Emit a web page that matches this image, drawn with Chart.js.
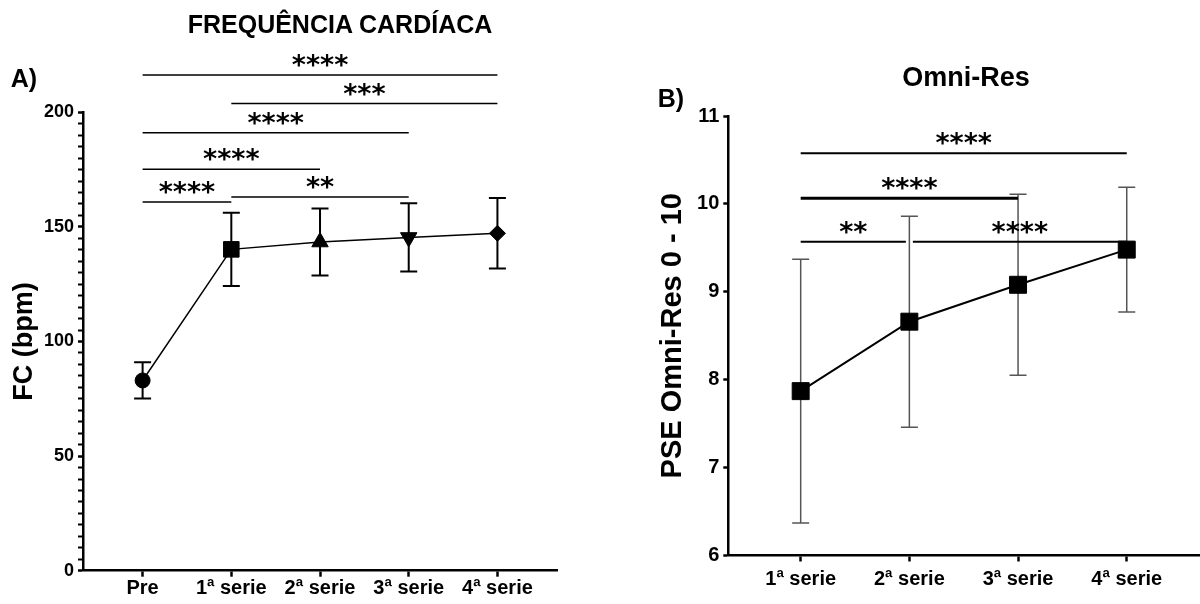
<!DOCTYPE html>
<html lang="pt">
<head>
<meta charset="utf-8">
<title>Frequência cardíaca e Omni-Res</title>
<script src="https://cdn.jsdelivr.net/npm/chart.js@4.4.1/dist/chart.umd.min.js"></script>
<style>
  body { margin: 0; background: #fff; }
  #wrap { position: relative; width: 1200px; height: 604px; font-family: 'Liberation Sans', Arial, sans-serif; }
  #wrap canvas { position: absolute; top: 0; }
  .lbl { position: absolute; font-weight: bold; color: #000; transform: translate(-50%, -50%); white-space: nowrap; }
</style>
</head>
<body>
<div id="wrap">
  <canvas id="chartFC" width="600" height="604" style="left:0"></canvas>
  <canvas id="chartOmni" width="600" height="604" style="left:600px"></canvas>
  <div class="lbl" style="left:340px;top:24px;font-size:25px">FREQUÊNCIA CARDÍACA</div>
  <div class="lbl" style="left:24px;top:78px;font-size:25px">A)</div>
  <div class="lbl" style="left:966px;top:77px;font-size:27px">Omni-Res</div>
  <div class="lbl" style="left:671px;top:98px;font-size:25px">B)</div>
</div>
<script>
// Panel A - heart rate (mean and SD)
const fcLabels = ['Pre', '1ª serie', '2ª serie', '3ª serie', '4ª serie'];
const fcMean = [83.0, 140.2, 143.4, 145.4, 147.2];
const fcSd = [7.9, 16.0, 14.6, 14.9, 15.4];
const fcYTicks = [0, 50, 100, 150, 200];

// Panel A - comparisons (from, to, height in bpm, stars)
const fcSigFrom = [0, 1, 0, 0, 0, 1];
const fcSigTo = [4, 4, 3, 2, 1, 3];
const fcSigAt = [216.3, 203.8, 191.1, 175.2, 160.9, 163.0];
const fcSigStars = ['****', '***', '****', '****', '****', '**'];

// Panel B - Omni-Res (mean and SD)
const omniLabels = ['1ª serie', '2ª serie', '3ª serie', '4ª serie'];
const omniMean = [7.87, 8.66, 9.08, 9.48];
const omniSd = [1.5, 1.2, 1.03, 0.71];
const omniYTicks = [6, 7, 8, 9, 10, 11];

// Panel B - comparisons
const omniSigFrom = [0, 0, 0, 1];
const omniSigTo = [3, 2, 1, 3];
const omniSigAt = [10.576, 10.064, 9.57, 9.57];
const omniSigStars = ['****', '****', '**', '****'];

const FONT = "'Liberation Sans', Arial, sans-serif";

// vertical SD bars with caps, drawn under the markers
const errorBars = {
  id: 'errorBars',
  beforeDatasetsDraw(chart, args, opts) {
    const { ctx, scales: { x, y } } = chart;
    const pts = chart.data.datasets[0].data;
    ctx.save();
    ctx.strokeStyle = opts.color;
    ctx.lineWidth = opts.width;
    pts.forEach((p, i) => {
      const px = x.getPixelForValue(p.x);
      const top = y.getPixelForValue(p.y + opts.sd[i]);
      const bot = y.getPixelForValue(p.y - opts.sd[i]);
      ctx.beginPath();
      ctx.moveTo(px, top); ctx.lineTo(px, bot);
      ctx.moveTo(px - opts.cap, top); ctx.lineTo(px + opts.cap, top);
      ctx.moveTo(px - opts.cap, bot); ctx.lineTo(px + opts.cap, bot);
      ctx.stroke();
    });
    ctx.restore();
  }
};

// significance brackets with asterisks
const sigBars = {
  id: 'sigBars',
  afterDraw(chart, args, opts) {
    const { ctx, scales: { x, y } } = chart;
    ctx.save();
    ctx.strokeStyle = '#000';
    ctx.fillStyle = '#000';
    ctx.font = opts.font;
    ctx.textAlign = 'center';
    ctx.textBaseline = 'alphabetic';
    opts.from.forEach((f, i) => {
      const t = opts.to[i];
      const py = y.getPixelForValue(opts.at[i]);
      let x0 = x.getPixelForValue(f);
      let x1 = x.getPixelForValue(t);
      // small gap where two bars meet on the same level
      opts.from.forEach((f2, j) => {
        if (j === i || opts.at[j] !== opts.at[i]) return;
        if (opts.to[j] === f) x0 += opts.gap;
        if (f2 === t) x1 -= opts.gap;
      });
      ctx.lineWidth = Array.isArray(opts.width) ? opts.width[i] : opts.width;
      ctx.beginPath();
      ctx.moveTo(x0, py);
      ctx.lineTo(x1, py);
      ctx.stroke();
      ctx.fillText(opts.stars[i], (x0 + x1) / 2, py + opts.starDy);
    });
    ctx.restore();
  }
};

function panel(canvasId, o) {
  return new Chart(document.getElementById(canvasId), {
    type: 'line',
    data: {
      datasets: [{
        data: o.mean.map((v, i) => ({ x: i, y: v })),
        borderColor: '#000',
        borderWidth: o.lineWidth,
        pointBackgroundColor: '#000',
        pointBorderColor: '#000',
        pointBorderWidth: 1,
        pointStyle: o.shapes,
        pointRotation: o.turn,
        pointRadius: o.radius,
        pointHoverRadius: o.radius,
        tension: 0,
        clip: false
      }]
    },
    options: {
      responsive: false,
      animation: false,
      events: [],
      layout: { padding: o.padding, autoPadding: false },
      plugins: {
        legend: { display: false },
        tooltip: { enabled: false },
        errorBars: { sd: o.sd, color: o.errColor, width: o.errWidth, cap: 8.5 },
        sigBars: {
          from: o.sigFrom, to: o.sigTo, at: o.sigAt, stars: o.sigStars,
          width: o.sigWidth, gap: 3.5, starDy: -1,
          font: "bold 27px 'DejaVu Sans'"
        }
      },
      scales: {
        x: {
          type: 'linear',
          min: o.xMin,
          max: o.xMax,
          afterBuildTicks: s => { s.ticks = o.labels.map((_, i) => ({ value: i })); },
          afterFit: s => { s.height = o.xHeight; },
          ticks: {
            autoSkip: false,
            maxRotation: 0,
            padding: o.xPad,
            color: '#000',
            font: { family: FONT, size: 20, weight: 'bold' },
            callback: v => o.labels[v]
          },
          grid: { drawOnChartArea: false, drawTicks: true, tickLength: 6, tickWidth: 2.5, tickColor: '#000' },
          border: { color: '#000', width: 2.5 }
        },
        y: {
          type: 'linear',
          min: o.yMin,
          max: o.yMax,
          afterFit: s => { s.width = o.yWidth; },
          ticks: {
            stepSize: o.yStep,
            autoSkip: false,
            padding: 4,
            color: '#000',
            font: { family: FONT, size: o.yFont, weight: 'bold' },
            callback: v => (o.yTicks.includes(v) ? String(v) : '')
          },
          grid: {
            drawOnChartArea: false,
            drawTicks: true,
            tickLength: 5,
            tickColor: '#000',
            tickWidth: c => (o.yTicks.includes(c.tick.value) ? 2.5 : 2)
          },
          border: { color: '#000', width: 2.5 },
          title: {
            display: true,
            text: o.yTitle,
            color: '#000',
            font: { family: FONT, size: o.yTitleSize, weight: 'bold' },
            padding: { top: o.yTitlePad, bottom: 0 }
          }
        }
      }
    },
    plugins: [errorBars, sigBars]
  });
}

panel('chartFC', {
  labels: fcLabels, mean: fcMean, sd: fcSd,
  sigFrom: fcSigFrom, sigTo: fcSigTo, sigAt: fcSigAt, sigStars: fcSigStars,
  shapes: ['circle', 'rect', 'triangle', 'triangle', 'rectRot'],
  turn: [0, 0, 0, 180, 0],
  radius: [7.5, 11, 9.5, 9.5, 8],
  lineWidth: 1.5, errColor: '#000', errWidth: 2, sigWidth: 1.5,
  padding: { top: 112.3, right: 42.7, bottom: 0, left: 0 },
  xMin: -0.672, xMax: 4.675, xHeight: 33.3, xPad: 0,
  yMin: 0, yMax: 200, yStep: 5, yTicks: fcYTicks, yFont: 18, yWidth: 83,
  yTitle: 'FC (bpm)', yTitleSize: 27, yTitlePad: 8.8
});

panel('chartOmni', {
  labels: omniLabels, mean: omniMean, sd: omniSd,
  sigFrom: omniSigFrom, sigTo: omniSigTo, sigAt: omniSigAt, sigStars: omniSigStars,
  shapes: 'rect', turn: 0, radius: 12,
  lineWidth: 2, errColor: '#555', errWidth: 1.5, sigWidth: [2, 2.8, 2, 2],
  padding: { top: 116, right: 0, bottom: 0, left: 0 },
  xMin: -0.666, xMax: 3.674, xHeight: 48.5, xPad: 5.5,
  yMin: 6, yMax: 11, yStep: 1, yTicks: omniYTicks, yFont: 20, yWidth: 128.3,
  yTitle: 'PSE Omni-Res 0 - 10', yTitleSize: 29, yTitlePad: 56
});
</script>
</body>
</html>
